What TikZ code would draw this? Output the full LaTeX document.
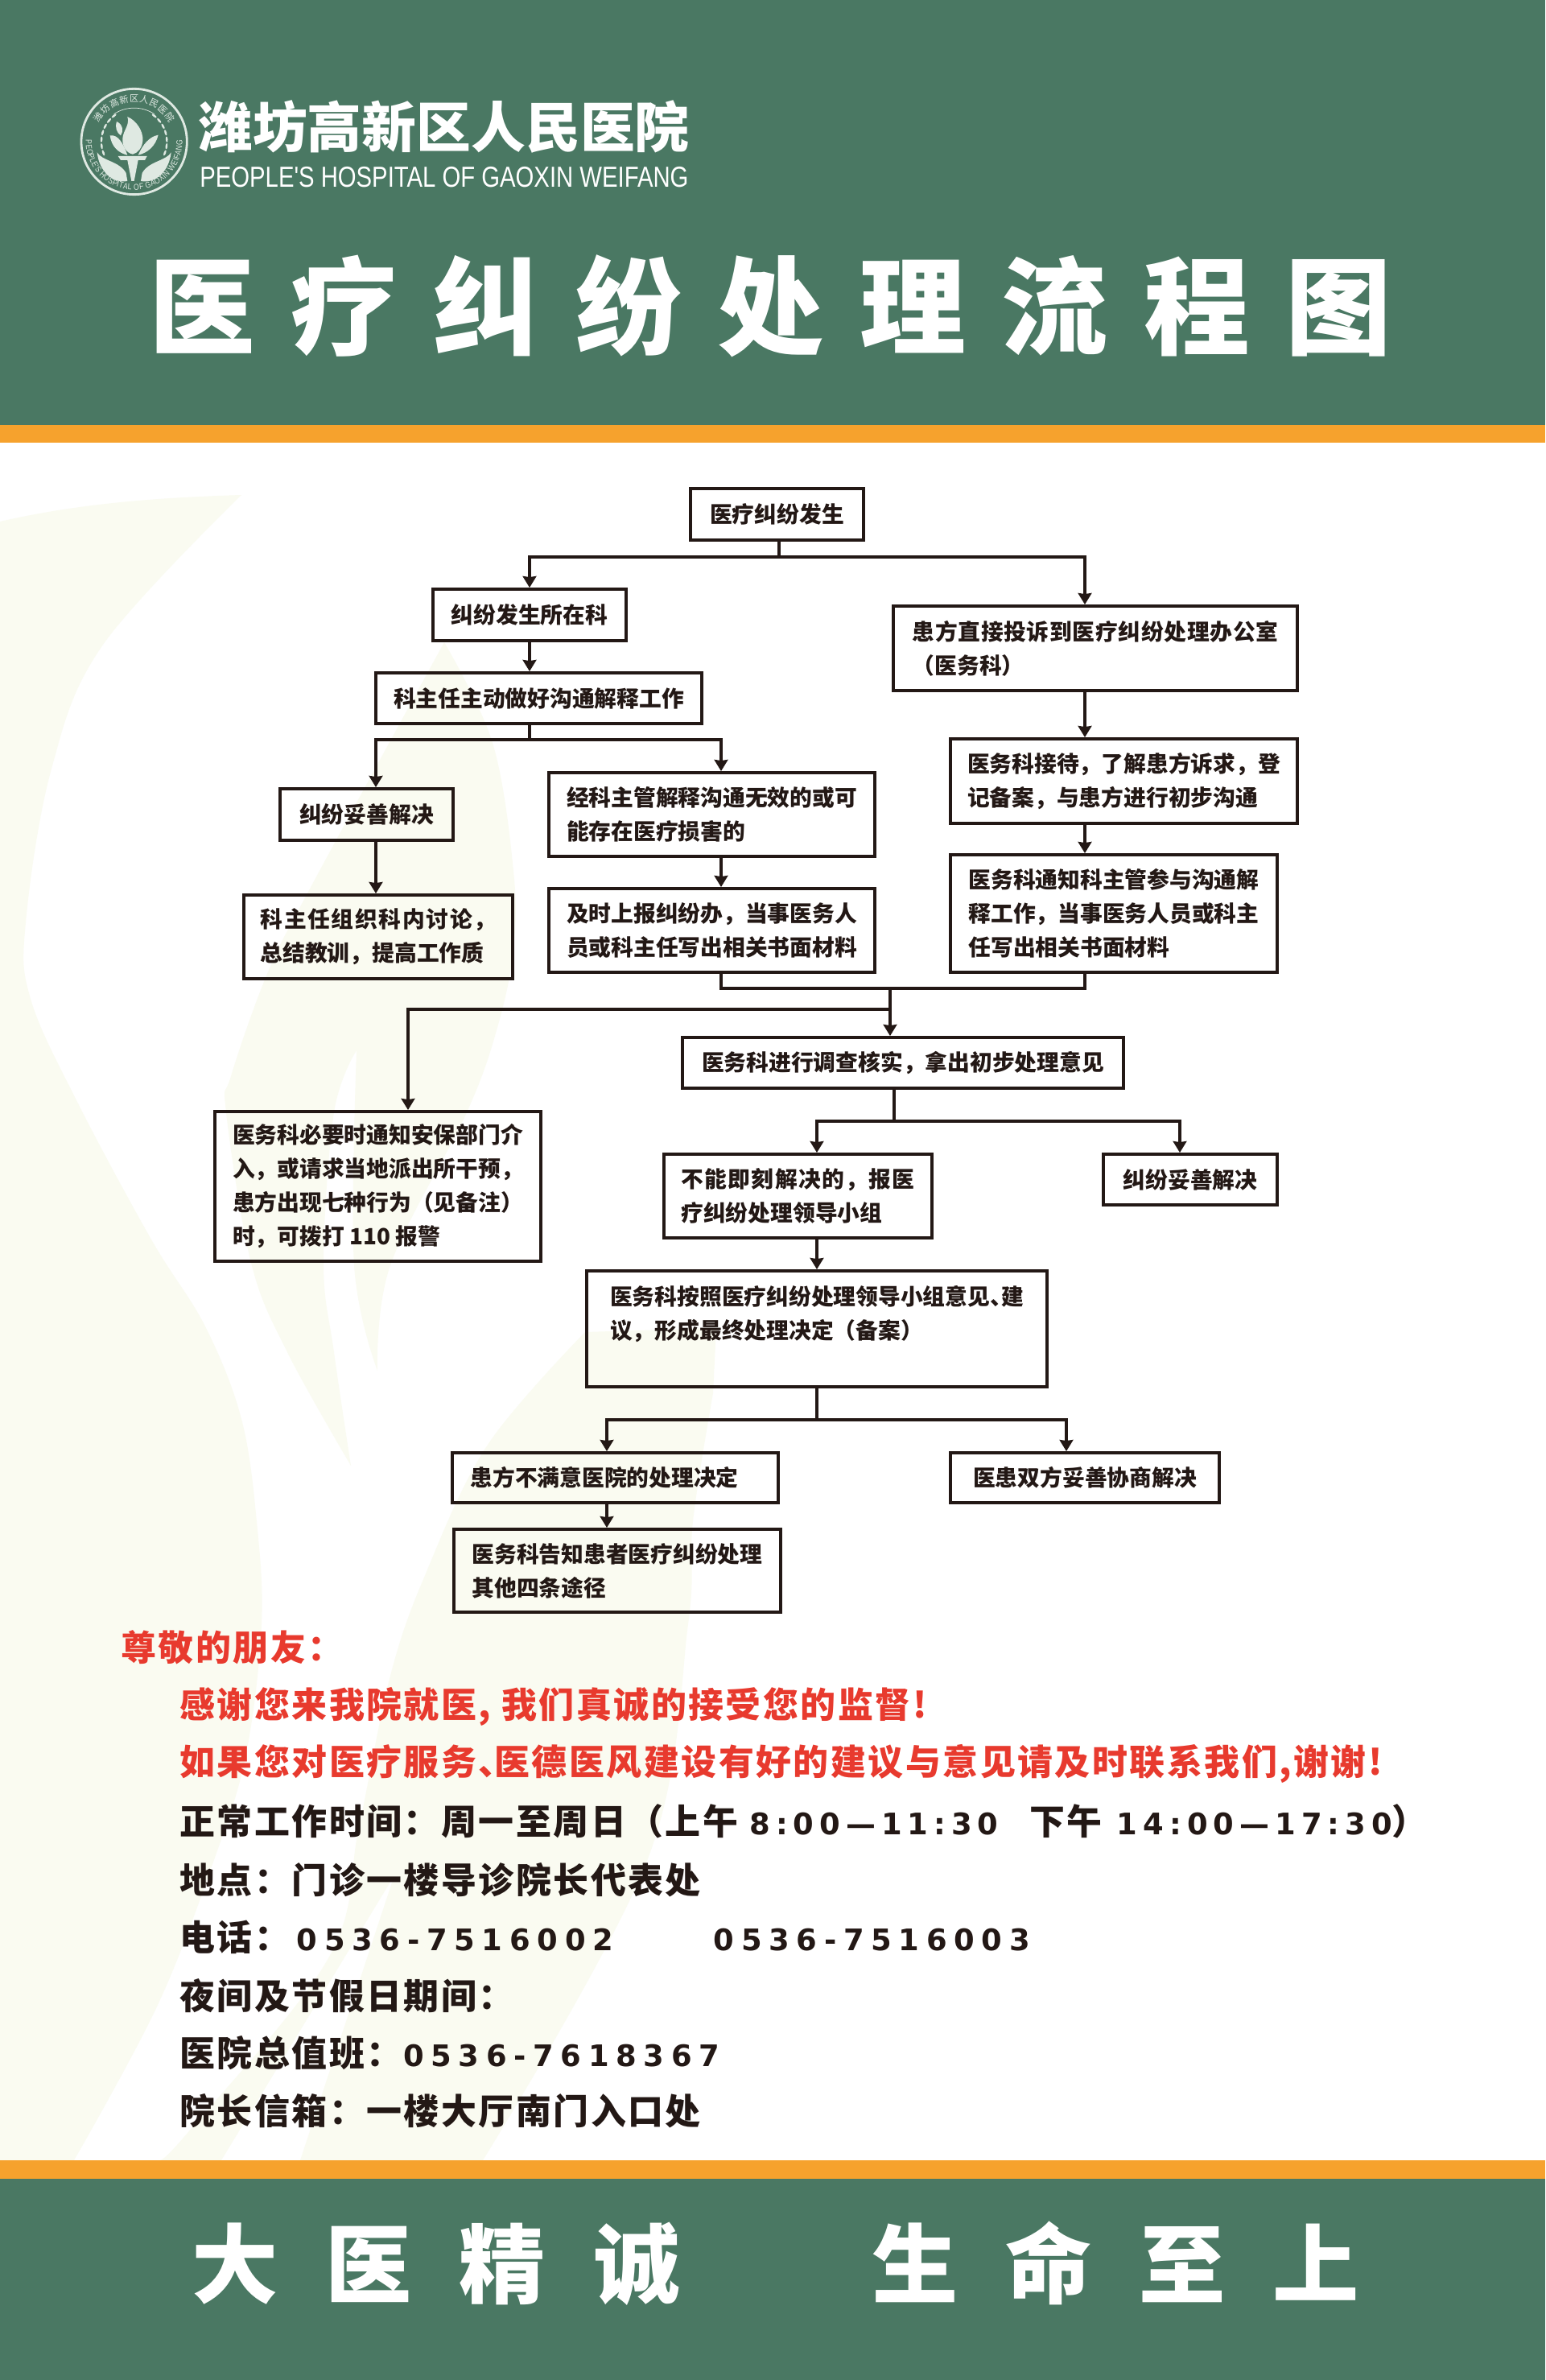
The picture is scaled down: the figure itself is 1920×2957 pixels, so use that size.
\documentclass[tikz,border=0pt]{standalone}
\usepackage{fontspec}
\usetikzlibrary{arrows.meta}
\usetikzlibrary{decorations.text}
\setmainfont{Noto Sans CJK SC}
\newfontfamily\noticefont[LetterSpace=5.7]{Noto Sans CJK SC}
\newfontfamily\numfont[LetterSpace=23.5]{DejaVu Sans}
\newfontfamily\timefont[LetterSpace=19]{DejaVu Sans}
\newfontfamily\titlefont[LetterSpace=34]{Noto Sans CJK SC}
\newfontfamily\mottofont[LetterSpace=55]{Noto Sans CJK SC}
\newfontfamily\enfont[FakeStretch=0.813]{Liberation Sans}
\newcommand{\tel}[1]{{\numfont\bfseries\fontsize{21}{26}\selectfont #1}}
\newcommand{\clock}[1]{{\timefont\bfseries\fontsize{21}{26}\selectfont #1}}
% full-width punctuation
\newcommand{\zhcomma}{\symbol{"FF0C}}
\newcommand{\zhcolon}{\symbol{"FF1A}}
\newcommand{\zhopen}{\symbol{"FF08}}
\newcommand{\zhclose}{\symbol{"FF09}}
\definecolor{bandgreen}{HTML}{4A7863}
\definecolor{bandorange}{HTML}{F6A22D}
\definecolor{leafcream}{HTML}{FAFBF1}
\definecolor{ink}{HTML}{231815}
\definecolor{noticered}{HTML}{E83A2E}
\definecolor{logopale}{HTML}{DFE9E2}
\tikzset{
	boxed/.style 2 args={draw=ink,line width=2.2pt,inner sep=0pt,minimum width=#1*0.02cm,minimum height=#2*0.02cm,align=left,text=ink,font=\fontsize{15.8}{23.9}\selectfont\bfseries},
	conn/.style={draw=ink,line width=1.9pt},
	connarrow/.style={conn,-{Stealth[length=8pt,width=9.5pt,inset=0.6pt]}},
	notice/.style={anchor=west,inner sep=0pt,text=ink,font=\noticefont\fontsize{25}{30}\selectfont\bfseries},
	noticehead/.style={notice,text=noticered},
	leaf/.style={fill=leafcream},
	logoshape/.style={fill=logopale}
}
\begin{document}
\begin{tikzpicture}[x=0.02cm,y=-0.02cm]
	\useasboundingbox (0,0) rectangle (1920,2957);

	% bands and background leaves
	\fill[white] (0,0) rectangle (1920,2957);
	\fill[leaf] (0,648) .. controls (100,625) and (200,618) .. (300,615) -- plot[smooth,tension=0.6] coordinates {(300,615) (128,801) (64,955) (32,1146) (38,1241) (96,1369) (188,1540) (255,1648) (300,1763) (319,1891) (325,2018) (306,2178) (268,2305) (196,2491) (92,2684)} -- (0,2684) -- cycle;
	\fill[leaf] plot[smooth,tension=0.6] coordinates {(552,798) (612,923) (638,1082) (638,1178) (619,1273) (580,1382) (485,1572) (469,1703)} -- plot[smooth,tension=0.6] coordinates {(469,1703) (440,1572) (443,1305)} -- plot[smooth,tension=0.6] coordinates {(443,1305) (415,1382) (402,1569) (415,1680) (436,1821)} -- plot[smooth,tension=0.6] coordinates {(436,1821) (357,1680) (312,1569) (281,1382) (287,1337) (332,1210) (383,1108) (552,798)} -- cycle;
	\fill[leaf] plot[smooth,tension=0.6] coordinates {(727,1655) (606,1795) (529,1955) (485,2082) (446,2270) (408,2433) (233,2650) (197,2684)} -- (275,2684) -- (490,2330) -- (373,2684) -- (600,2684) -- plot[smooth,tension=0.6] coordinates {(600,2684) (804,2312) (855,2018) (861,1890) (886,1731)} -- (890,1650) -- cycle;

	\fill[bandgreen] (0,0) rectangle (1920,528);
	\fill[bandorange] (0,528) rectangle (1920,550);
	\fill[bandorange] (0,2684) rectangle (1920,2707);
	\fill[bandgreen] (0,2707) rectangle (1920,2957);

	% hospital logo
	\begin{scope}[shift={(90,100)},scale=0.3333]
		\draw[logopale,line width=1.6pt] (230,228) circle (197);
		\draw[logopale,line width=0.4pt] (155,125) .. controls (200,95) and (260,95) .. (305,125);
		\foreach \a in {128,140,152,164,176,188,200}{
			\pgfmathsetmacro{\lx}{230+122*cos(\a)}
			\pgfmathsetmacro{\ly}{228-122*sin(\a)}
			\pgfmathsetmacro{\rx}{230-122*cos(\a)}
			\fill[logoshape,shift={(\lx,\ly)},rotate=\a+90] (0,0) ellipse (11 and 4);
			\fill[logoshape,shift={(\rx,\ly)},rotate=90-\a] (0,0) ellipse (11 and 4);
		}
		\fill[logoshape] (205,135) .. controls (240,150) and (265,190) .. (262,225) .. controls (260,250) and (245,270) .. (225,275) .. controls (200,270) and (185,245) .. (187,215) .. controls (190,185) and (215,165) .. (205,135) -- cycle;
		\fill[logoshape] (140,205) .. controls (170,200) and (190,235) .. (205,278) .. controls (170,270) and (145,245) .. (140,205) -- cycle;
		\fill[logoshape] (320,203) .. controls (285,210) and (262,240) .. (245,278) .. controls (280,270) and (310,245) .. (320,203) -- cycle;
		\fill[logoshape] (165,153) .. controls (190,165) and (190,190) .. (180,205) .. controls (165,195) and (158,175) .. (165,153) -- cycle;
		\fill[logoshape] (170,282) -- (278,282) -- (270,297) -- (245,297) -- (230,375) -- (220,375) -- (205,297) -- (180,297) -- cycle;
		\fill[logoshape] (92,268) .. controls (110,300) and (175,300) .. (200,345) -- (205,375) .. controls (150,385) and (100,340) .. (92,268) -- cycle;
		\fill[logoshape] (368,268) .. controls (350,300) and (285,300) .. (260,345) -- (255,375) .. controls (310,385) and (360,340) .. (368,268) -- cycle;
		\path[decorate,decoration={text along path,text color=logopale,text align={fit to path},text={|\fontsize{6.4}{8}\selectfont|潍坊高新区人民医院}}] plot[domain=152:28,samples=30] ({230+148*cos(\x)},{228-148*sin(\x)});
		\path[decorate,decoration={text along path,text color=logopale,text align={fit to path},text={|\enfont\fontsize{6}{8}\selectfont|PEOPLE'S HOSPITAL OF GAOXIN WEIFANG}}] plot[domain=178:362,samples=50] ({230+180*cos(\x)},{228-180*sin(\x)});
	\end{scope}

	% header
	\node[anchor=west,inner sep=0pt,text=white,font=\fontsize{38.6}{44}\selectfont\bfseries] (hospname) at (246,157) {潍坊高新区人民医院};
	\node[anchor=west,inner sep=0pt,text=white,font=\enfont\fontsize{20.5}{24}\selectfont] (hospeng) at (248,220) {PEOPLE'S HOSPITAL OF GAOXIN WEIFANG};
	\node[anchor=west,inner sep=0pt,text=white,font=\titlefont\fontsize{75}{84}\selectfont\bfseries] (maintitle) at (185,380) {医疗纠纷处理流程图};

	% boxes
	\node[boxed={215}{64}] (root) at (965.5,639) {医疗纠纷发生};
	\node[boxed={240}{64}] (dept) at (658,764) {纠纷发生所在科};
	\node[boxed={502}{105}] (complaint) at (1361,805.5) {\addfontfeature{LetterSpace=2.5}患方直接投诉到医疗纠纷处理办公室\\\zhopen{}医务科\zhclose};
	\node[boxed={405}{63}] (chair) at (669.5,867.5) {科主任主动做好沟通解释工作};
	\node[boxed={215}{64}] (solved) at (455.5,1012) {纠纷妥善解决};
	\node[boxed={405}{104}] (noeffect) at (884.5,1012) {经科主管解释沟通无效的或可\\能存在医疗损害的};
	\node[boxed={431}{105}] (reception) at (1396.5,970.5) {医务科接待\zhcomma{}了解患方诉求\zhcomma{}登\\记备案\zhcomma{}与患方进行初步沟通};
	\node[boxed={334}{104}] (discuss) at (470,1164) {\addfontfeature{LetterSpace=6}科主任组织科内讨论\zhcomma\\总结教训\zhcomma{}提高工作质};
	\node[boxed={405}{104}] (report) at (884.5,1156) {及时上报纠纷办\zhcomma{}当事医务人\\员或科主任写出相关书面材料};
	\node[boxed={406}{146}] (notify) at (1384,1135) {医务科通知科主管参与沟通解\\释工作\zhcomma{}当事医务人员或科主\\任写出相关书面材料};
	\node[boxed={548}{63}] (investig) at (1122,1320.5) {医务科进行调查核实\zhcomma{}拿出初步处理意见};
	\node[boxed={405}{186}] (police) at (469.5,1474) {医务科必要时通知安保部门介\\入\zhcomma{}或请求当地派出所干预\zhcomma\\患方出现七种行为\zhopen{}见备注\zhclose\\时\zhcomma{}可拨打 110 报警};
	\node[boxed={333}{104}] (cannot) at (991.5,1486) {\addfontfeature{LetterSpace=5}不能即刻解决的\zhcomma{}报医\\疗纠纷处理领导小组};
	\node[boxed={216}{63}] (solvedb) at (1479,1465.5) {纠纷妥善解决};
	\node[boxed={572}{144}] (final) at (1015,1651) {医务科按照医疗纠纷处理领导小组意见、\kern-.5em建\\议\zhcomma{}形成最终处理决定\zhopen{}备案\zhclose\\~};
	\node[boxed={405}{62},text width=7.2cm] (unhappy) at (764.5,1836) {患方不满意医院的处理决定};
	\node[boxed={334}{62}] (mutual) at (1348,1836) {医患双方妥善协商解决};
	\node[boxed={406}{103}] (inform) at (767,1951.5) {医务科告知患者医疗纠纷处理\\其他四条途径};

	% rails and forks for the connectors
	\coordinate (railsolved) at (467,0);
	\coordinate (railnoeffect) at (896,0);
	\coordinate (railcomplaint) at (1348,0);
	\coordinate (railpolice) at (507,0);
	\coordinate (railfinal) at (1015,0);
	\coordinate (railunhappy) at (754,0);
	\coordinate (railmutual) at (1325,0);
	\coordinate (railsolvedb) at (1466,0);
	\coordinate (forkroot) at (968,692);
	\coordinate (forkchair) at (658,919);
	\coordinate (forkmerge) at (1106,1228);
	\coordinate (forkpolice) at (1106,1254);
	\coordinate (forkinvestig) at (1111,1393);
	\coordinate (forkfinal) at (1015,1764);

	% connectors
	\draw[conn] (forkroot |- root.south) -- (forkroot);
	\draw[connarrow] (forkroot) -| (dept.north);
	\draw[connarrow] (forkroot) -| (railcomplaint |- complaint.north);
	\draw[connarrow] (dept.south) -- (dept.south |- chair.north);
	\draw[conn] (forkchair |- chair.south) -- (forkchair);
	\draw[connarrow] (forkchair) -| (railsolved |- solved.north);
	\draw[connarrow] (forkchair) -| (railnoeffect |- noeffect.north);
	\draw[connarrow] (railsolved |- solved.south) -- (railsolved |- discuss.north);
	\draw[connarrow] (railnoeffect |- noeffect.south) -- (railnoeffect |- report.north);
	\draw[connarrow] (railcomplaint |- complaint.south) -- (railcomplaint |- reception.north);
	\draw[connarrow] (railcomplaint |- reception.south) -- (railcomplaint |- notify.north);
	\draw[conn] (railnoeffect |- report.south) |- (forkmerge);
	\draw[conn] (railcomplaint |- notify.south) |- (forkmerge);
	\draw[connarrow] (forkmerge) -- (forkmerge |- investig.north);
	\draw[connarrow] (forkpolice) -| (railpolice |- police.north);
	\draw[conn] (forkinvestig |- investig.south) -- (forkinvestig);
	\draw[connarrow] (forkinvestig) -| (railfinal |- cannot.north);
	\draw[connarrow] (forkinvestig) -| (railsolvedb |- solvedb.north);
	\draw[connarrow] (railfinal |- cannot.south) -- (railfinal |- final.north);
	\draw[conn] (railfinal |- final.south) -- (forkfinal);
	\draw[connarrow] (forkfinal) -| (railunhappy |- unhappy.north);
	\draw[connarrow] (forkfinal) -| (railmutual |- mutual.north);
	\draw[connarrow] (railunhappy |- unhappy.south) -- (railunhappy |- inform.north);

	% notice
	\node[noticehead] (greeting) at (150,2047) {尊敬的朋友\zhcolon};
	\node[noticehead] (thanks) at (223,2120) {感谢您来我院就医,\kern.3em我们真诚的接受您的监督!};
	\node[noticehead] (advice) at (223,2191) {如果您对医疗服务、\kern-.55em医德医风建设有好的建议与意见请及时联系我们,谢谢!};
	\node[notice] (hours) at (223,2263) {正常工作时间\zhcolon{}周一至周日\zhopen{}上午\hspace{8pt}\clock{8:00—11:30}\hspace{22pt}下午\hspace{10.5pt}\clock{14:00—17:30}\zhclose};
	\node[notice] (place) at (223,2336) {地点\zhcolon{}门诊一楼导诊院长代表处};
	\node[notice] (phone) at (223,2407) {电话\zhcolon\hspace{5pt}\tel{0536-7516002}\hspace{71pt}\tel{0536-7516003}};
	\node[notice] (night) at (223,2480) {夜间及节假日期间\zhcolon};
	\node[notice] (duty) at (223,2551) {医院总值班\zhcolon\hspace{1pt}\tel{0536-7618367}};
	\node[notice] (mailbox) at (223,2623) {院长信箱\zhcolon{}一楼大厅南门入口处};

	% motto
	\node[anchor=west,inner sep=0pt,text=white,font=\mottofont\fontsize{61}{68}\selectfont\bfseries] (motto) at (238.5,2812) {大医精诚\hspace{136pt}生命至上};
\end{tikzpicture}
\end{document}
